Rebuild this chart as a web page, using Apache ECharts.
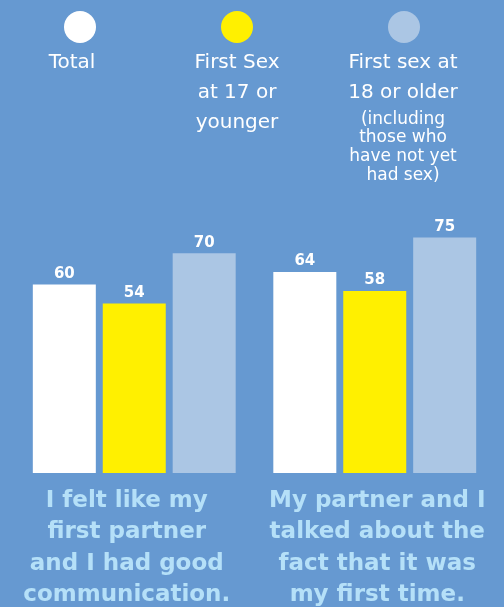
<!DOCTYPE html>
<html>
<head>
<meta charset="utf-8">
<script src="https://cdn.jsdelivr.net/npm/echarts@6/dist/echarts.min.js"></script>
<style>
  html, body { margin: 0; padding: 0; background: #6699d1; }
  #main { width: 504px; height: 607px; }
</style>
</head>
<body>
<div id="main"></div>
<script>
  const categories = [
    "I felt like my\nfirst partner\nand I had good\ncommunication.",
    "My partner and I\ntalked about the\nfact that it was\nmy first time.",
  ];
  const seriesNames = ["Total", "First Sex at 17 or younger", "First sex at 18 or older"];
  const totalValues = [60, 64];
  const youngerValues = [54, 58];
  const olderValues = [70, 75];

  const colors = ["#ffffff", "#fff000", "#abc6e4"];
  const font = "DejaVu Sans";

  const myChart = echarts.init(document.getElementById("main"));

  function makeBar(name, data, color) {
    return {
      name: name,
      type: "bar",
      data: data,
      barWidth: 63,
      barGap: "11%",
      itemStyle: { color: color },
      label: {
        show: true,
        position: "top",
        distance: 3,
        color: "#ffffff",
        fontFamily: font,
        fontWeight: "bold",
        fontSize: 15,
      },
    };
  }

  // legend: one legend per series, circle only, labels as text below
  const legendX = [80, 237, 404];
  const legends = seriesNames.map((name, i) => ({
    data: [name],
    left: legendX[i] - 16,
    top: 11,
    padding: 0,
    icon: "circle",
    itemWidth: 32,
    itemHeight: 32,
    itemGap: 0,
    formatter: () => "",
    selectedMode: false,
  }));

  const legendText = [
    { x: 72, y: 48, text: "Total", size: 20, lh: 30 },
    { x: 237, y: 48, text: "First Sex\nat 17 or\nyounger", size: 20, lh: 30 },
    { x: 403, y: 48, text: "First sex at\n18 or older", size: 20, lh: 30 },
    { x: 403, y: 110, text: "(including\nthose who\nhave not yet\nhad sex)", size: 17, lh: 18.7 },
  ];

  const catStyle = {
    color: "#b5e0f8",
    fontFamily: font,
    fontWeight: "bold",
    fontSize: 23,
    lineHeight: 31.5,
  };

  const option = {
    backgroundColor: "#6699d1",
    animation: false,
    legend: legends,
    graphic: legendText.map((t) => ({
      type: "text",
      x: t.x,
      y: t.y,
      style: {
        text: t.text,
        fill: "#ffffff",
        fontFamily: font,
        fontSize: t.size,
        lineHeight: t.lh,
        align: "center",
        verticalAlign: "top",
      },
    })),
    grid: {
      left: 14, right: 9, top: 159, bottom: 134,
      containLabel: false,
      outerBoundsMode: "none",
    },
    xAxis: {
      type: "category",
      data: categories,
      axisLine: { show: false },
      axisTick: { show: false },
      axisLabel: {
        margin: 12,
        interval: 0,
        verticalAlign: "top",
        ...catStyle,
        // the text blocks sit a little off the bar groups' centres
        formatter: (value, index) => (index === 0 ? "{a|" : "{b|") + value + "}",
        rich: {
          a: { ...catStyle, padding: [0, 15, 0, 0] },
          b: { ...catStyle, padding: [0, 0, 0, 5] },
        },
      },
    },
    yAxis: {
      type: "value",
      min: 0,
      max: 100,
      show: false,
      splitLine: { show: false },
    },
    series: [
      makeBar(seriesNames[0], totalValues, colors[0]),
      makeBar(seriesNames[1], youngerValues, colors[1]),
      makeBar(seriesNames[2], olderValues, colors[2]),
    ],
  };

  myChart.setOption(option);
</script>
</body>
</html>
